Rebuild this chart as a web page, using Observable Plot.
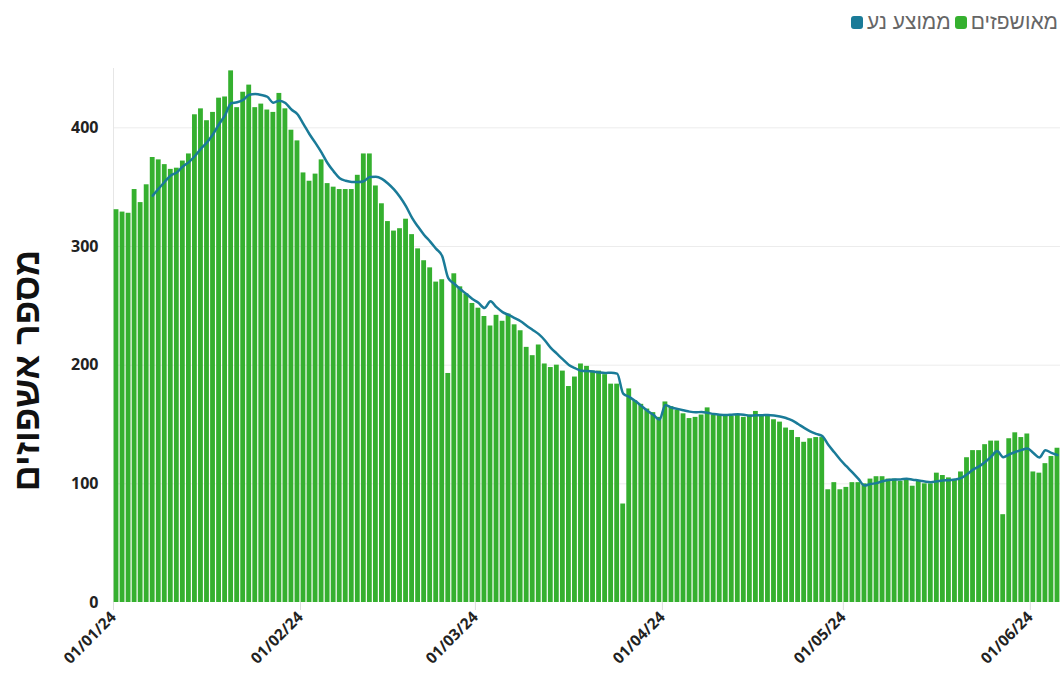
<!DOCTYPE html>
<html>
<head>
<meta charset="utf-8">
<script src="https://cdn.jsdelivr.net/npm/d3@7"></script>
<script src="https://cdn.jsdelivr.net/npm/@observablehq/plot@0.6"></script>
<style>
  html, body { margin: 0; padding: 0; background: #fff; }
  #wrap { width: 1060px; height: 679px; position: relative; overflow: hidden; }
  #legend { height: 44px; display: flex; flex-direction: row-reverse; align-items: center; padding-right: 2px; box-sizing: border-box;
            font-family: "Liberation Sans", "DejaVu Sans", sans-serif; font-size: 21px; color: #666; }
  .item { display: flex; align-items: center; margin-left: 4px; }
  .sw { width: 12px; height: 13px; border-radius: 3px; margin-right: 4px; }
  svg { display: block; }
</style>
</head>
<body>
<div id="wrap">
  <div id="legend"></div>
  <div id="chart"></div>
</div>
<script>
// Daily hospitalized counts, 2024
const startDate = "2024-01-01";
const janValues = [331,329,328,348,337,352,375,373,369,365,366,372,378,411,416,406,413,425,426,448,417,430,436,417,420,415,413,429,416,398,389];
const febValues = [362,355,361,373,353,350,348,348,348,360,378,378,351,336,321,313,315,323,310,298,288,282,270,272,193,277,266,260,252];
const marValues = [248,241,233,242,237,243,234,229,215,208,217,201,198,200,195,182,190,201,199,195,195,192,184,184,83,180,170,167,163,160,156];
const aprValues = [169,165,162,159,155,156,158,164,158,158,157,157,158,156,158,161,158,158,154,152,147,145,139,135,138,139,139,95,101,95];
const mayValues = [97,101,101,100,104,106,106,104,104,102,104,98,102,100,100,109,107,105,103,110,122,128,128,133,136,136,74,138,143,139,142];
const junValues = [110,109,117,123,130];

const xTickDates = ["2024-01-01","2024-02-01","2024-03-01","2024-04-01","2024-05-01","2024-06-01"];
const yTicks = [0,100,200,300,400];
const seriesNames = ["מאושפזים", "ממוצע נע"];
const seriesColors = ["#35b02f", "#1a7b98"];
const yTitle = "מספר אשפוזים";
const windowDays = 7;

const values = [...janValues, ...febValues, ...marValues, ...aprValues, ...mayValues, ...junValues];
const start = d3.utcParse("%Y-%m-%d")(startDate);
const data = values.map((v, i) => ({date: d3.utcDay.offset(start, i), value: v}));
const ticks = xTickDates.map(d3.utcParse("%Y-%m-%d"));
const end = d3.utcDay.offset(data[data.length - 1].date, 1);

// legend
const legend = document.getElementById("legend");
seriesNames.forEach((name, i) => {
  const item = document.createElement("div");
  item.className = "item";
  const sw = document.createElement("div");
  sw.className = "sw";
  sw.style.background = seriesColors[i];
  const t = document.createElement("span");
  t.textContent = name;
  item.appendChild(sw);
  item.appendChild(t);
  legend.appendChild(item);
});

const chart = Plot.plot({
  width: 1060,
  height: 635,
  marginTop: 24,
  marginBottom: 77,
  marginLeft: 113,
  marginRight: 0,
  style: {fontFamily: "'Open Sans', 'Liberation Sans', sans-serif", color: "#222", background: "#fff"},
  x: {type: "utc", domain: [start, end]},
  y: {domain: [0, 450]},
  marks: [
    Plot.gridY({ticks: yTicks.filter(d => d > 0), stroke: "#ececec", strokeOpacity: 1}),
    Plot.ruleX([start], {stroke: "#e6e6e6"}),
    Plot.rectY(data, {x1: "date", x2: d => d3.utcDay.offset(d.date, 1), y: "value", fill: seriesColors[0], insetLeft: 0.6, insetRight: 0.6}),
    Plot.lineY(data, Plot.windowY({k: windowDays, anchor: "end", strict: true},
      {x: d => d3.utcHour.offset(d.date, 12), y: "value", stroke: seriesColors[1], strokeWidth: 2.5, curve: "monotone-x"})),
    Plot.axisY({ticks: yTicks, tickSize: 0, tickPadding: 15, fontSize: 16, fontWeight: "bold", label: null}),
    Plot.axisX({ticks: ticks, tickFormat: d3.utcFormat("%d/%m/%y"), tickRotate: -45, tickSize: 8, tickPadding: 4,
      stroke: "#dddddd", fill: "#222", fontSize: 15.5, fontWeight: "bold", label: null}),
    Plot.text([yTitle], {frameAnchor: "left", dx: -86, dy: 35, rotate: -90, textAnchor: "middle", fontSize: 36, fontWeight: "bold",
      fill: "#111", fontFamily: "'Liberation Sans', 'DejaVu Sans', sans-serif"})
  ]
});
document.getElementById("chart").appendChild(chart);
</script>
</body>
</html>
